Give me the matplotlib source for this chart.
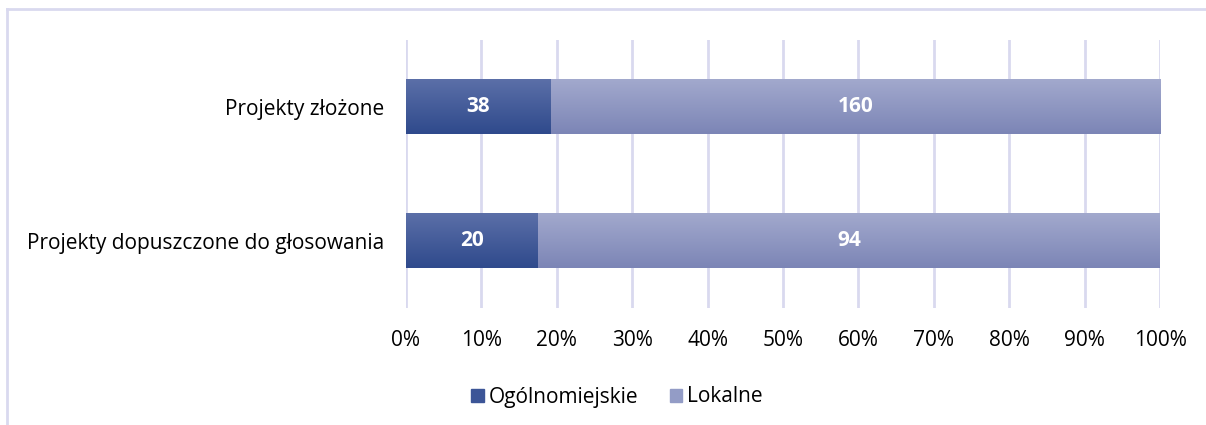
import matplotlib
matplotlib.use("Agg")
import matplotlib.pyplot as plt
import numpy as np
from matplotlib.colors import LinearSegmentedColormap
from matplotlib.patches import Rectangle

categories = ["Projekty dopuszczone do głosowania", "Projekty złożone"]
series_names = ["Ogólnomiejskie", "Lokalne"]
ogolnomiejskie = [20, 38]
lokalne = [94, 160]
xtick_labels = ["0%", "10%", "20%", "30%", "40%", "50%", "60%", "70%", "80%", "90%", "100%"]

plt.rcParams['font.family'] = ['Open Sans', 'DejaVu Sans']
FS = 15

fig = plt.figure(figsize=(12.06, 4.25), dpi=100)
ax = fig.add_axes([406/1206, 1-308/425, (1160-406)/1206, (308-40)/425])

totals = np.array(ogolnomiejskie) + np.array(lokalne)
p1 = np.array(ogolnomiejskie) / totals * 100
p2 = np.array(lokalne) / totals * 100
y = np.arange(len(categories))
h = 0.41

grads = [("#5b6fa8", "#2f4a8c"), ("#a2a9cd", "#7c85b6")]
solid = ["#3c5597", "#939cc6"]

bars1 = ax.barh(y, p1, height=h, color=solid[0], zorder=2)
bars2 = ax.barh(y, p2, left=p1, height=h, color=solid[1], zorder=2)

for bars, (ctop, cbot) in zip([bars1, bars2], grads):
    cmap = LinearSegmentedColormap.from_list("g", [cbot, ctop])
    for b in bars:
        x0, y0, w, hh = b.get_x(), b.get_y(), b.get_width(), b.get_height()
        grad = np.linspace(0, 1, 100).reshape(-1, 1)
        ax.imshow(grad, cmap=cmap, aspect='auto', origin='lower',
                  extent=[x0, x0 + w, y0, y0 + hh], zorder=3)
ax.set_xlim(0, 100)
ax.set_ylim(-0.5, 1.5)

for i in range(len(categories)):
    ax.text(p1[i] / 2, y[i], str(ogolnomiejskie[i]), ha='center', va='center',
            color='white', fontsize=FS, fontweight='bold', zorder=4)
    ax.text(p1[i] + p2[i] / 2, y[i], str(lokalne[i]), ha='center', va='center',
            color='white', fontsize=FS, fontweight='bold', zorder=4)

ax.set_xticks(np.arange(0, 101, 10))
ax.set_xticklabels(xtick_labels, fontsize=FS)
ax.set_yticks(y)
ax.set_yticklabels(categories, fontsize=FS)
ax.tick_params(axis='both', length=0)
ax.tick_params(axis='x', pad=16)
ax.tick_params(axis='y', pad=16)
for s in ax.spines.values():
    s.set_visible(False)
ax.grid(axis='x', color='#d9d9ef', linewidth=2, zorder=0)
ax.set_axisbelow(True)

handles = [Rectangle((0, 0), 1, 1, color=solid[0]), Rectangle((0, 0), 1, 1, color=solid[1])]
fig.legend(handles, series_names, loc='center', bbox_to_anchor=(617/1206, 1-397/425),
           ncol=2, frameon=False, fontsize=FS, handlelength=0.6, handleheight=0.6,
           handletextpad=0.25, columnspacing=1.5)

# outer border (top and left visible)
fig.add_artist(plt.Line2D([7/1206, 1], [1-9/425, 1-9/425], transform=fig.transFigure, color='#d9d9ef', linewidth=2))
fig.add_artist(plt.Line2D([7/1206, 7/1206], [0, 1-9/425], transform=fig.transFigure, color='#d9d9ef', linewidth=2))

fig.savefig("out.png", dpi=100)
